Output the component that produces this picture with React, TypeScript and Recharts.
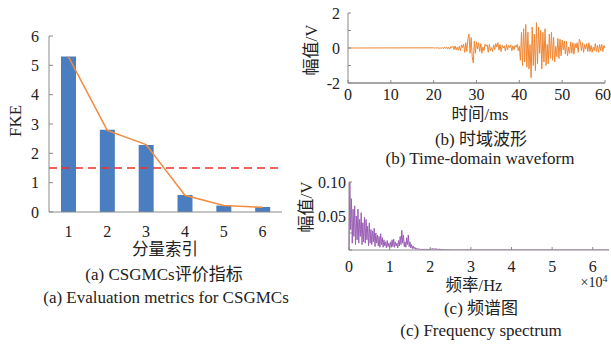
import React from 'react';
import { ComposedChart, LineChart, Bar, Line, XAxis, YAxis, ReferenceLine } from 'recharts';

const FONT = '"Liberation Serif", "Noto Sans CJK SC", serif';
const AXIS = '#8a8a8a';
const TEXT = '#222';

// (a) component index vs FKE
const components = ['1', '2', '3', '4', '5', '6'];
const fkeValues = [5.3, 2.8, 2.28, 0.58, 0.22, 0.17];
const fkeTrend = [5.3, 2.78, 2.3, 0.57, 0.22, 0.16];
const fkeThreshold = 1.5;
const fkeTicks = [0, 1, 2, 3, 4, 5, 6];

// (b) time-domain waveform, 0.25 ms samples from 20 ms (flat before)
const waveStart = 20;
const waveStep = 0.25;
const waveValues = [
  0.01, -0.01, 0.02, -0.01,
  0.02, -0.02, 0.01, -0.02,
  0.03, -0.04, 0.05, -0.03,
  0.06, -0.05, 0.04, -0.07,
  0.08, 0.02, 0.1, -0.09,
  0.12, -0.1, 0.05, -0.13,
  0.1, -0.16, 0.18, 0.02,
  0.22, -0.25, 0.3, -0.2,
  0.55, 0.8, -0.3, 0.6,
  -0.5, -0.85, 0.4, -0.3,
  0.35, -0.05, 0.3, -0.2,
  0.25, -0.3, 0.05, -0.15,
  0.22, 0.1, 0.18, -0.25,
  0.2, -0.15, 0.02, -0.2,
  0.18, -0.1, 0.25, 0.05,
  0.3, -0.12, 0.2, -0.2,
  0.15, 0.0, 0.12, -0.18,
  0.2, -0.1, 0.15, 0.02,
  0.18, -0.15, 0.12, -0.1,
  0.15, 0.05, 0.2, -0.15,
  0.1, -0.7, 0.9, -1.0,
  1.1, -0.8, 1.35, -1.1,
  0.9, -1.2, 0.2, -1.7,
  1.2, -1.0, 0.8, -1.3,
  1.45, -0.9, 1.2, -0.3,
  1.0, -1.2, 0.9, -0.8,
  1.1, -1.0, 0.2, -0.9,
  0.8, -0.6, 0.9, -0.7,
  0.6, -0.8, 0.1, -0.5,
  0.55, -0.6, 0.5, -0.45,
  0.45, -0.1, 0.4, -0.35,
  0.4, -0.45, 0.05, -0.3,
  0.35, -0.3, 0.3, -0.35,
  0.25, 0.0, 0.3, -0.25,
  0.5, 0.35, -0.15, 0.3,
  -0.25, 0.2, -0.05, 0.25,
  -0.2, 0.3, -0.2, 0.15,
  -0.25, 0.05, -0.15, 0.25,
  -0.2, 0.15, -0.25, 0.2,
  -0.15, 0.2, -0.2, 0.15,
  0.0,
];
const timeTicks = [0, 10, 20, 30, 40, 50, 60];
const voltTicks = [-2, -1, 0, 1, 2];

// (c) spectrum, 200 Hz bins up to 26 kHz, zero beyond
const specStep = 200;
const specValues = [
  0.0, 0.1, 0.03, 0.075, 0.01, 0.06, 0.02, 0.065, 0.008, 0.05,
  0.015, 0.06, 0.01, 0.045, 0.02, 0.055, 0.008, 0.04, 0.012, 0.048,
  0.01, 0.045, 0.015, 0.035, 0.006, 0.04, 0.01, 0.03, 0.008, 0.028,
  0.012, 0.032, 0.005, 0.025, 0.01, 0.022, 0.006, 0.02, 0.004, 0.024,
  0.008, 0.018, 0.004, 0.015, 0.006, 0.012, 0.003, 0.014, 0.005, 0.01,
  0.003, 0.012, 0.004, 0.015, 0.005, 0.016, 0.004, 0.012, 0.006, 0.01,
  0.003, 0.014, 0.006, 0.02, 0.008, 0.029, 0.01, 0.022, 0.005, 0.012,
  0.004, 0.018, 0.008, 0.022, 0.005, 0.012, 0.003, 0.008, 0.002, 0.006,
  0.002, 0.004, 0.001, 0.003, 0.001, 0.002, 0.001, 0.0015, 0.0005, 0.001,
  0.0005, 0.001, 0.0005, 0.001, 0.0005, 0.0012, 0.0004, 0.001, 0.0003, 0.0015,
  0.0005, 0.002, 0.0006, 0.0025, 0.0008, 0.002, 0.0006, 0.0022, 0.0005, 0.0018,
  0.0005, 0.0015, 0.0004, 0.001, 0.0003, 0.0008, 0.0002, 0.0006, 0.0002, 0.0005,
  0.0001, 0.0004, 0.0001, 0.0003, 0.0001, 0.0002, 0.0001, 0.0001, 0, 0.0001,
  0,
];
const specMax = 64000;
const freqTicks = [0, 10000, 20000, 30000, 40000, 50000, 60000];
const ampTicks = [0, 0.025, 0.05, 0.075, 0.1];

const barData = components.map((c, i) => ({ name: c, fke: fkeValues[i], trend: fkeTrend[i] }));
const waveData = [{ t: 0, v: 0 }, ...waveValues.map((v, i) => ({ t: waveStart + i * waveStep, v }))];
const specData = [...specValues.map((a, i) => ({ f: i * specStep, a })), { f: specMax, a: 0 }];

const tickStyle = { fontSize: 16, fill: TEXT, fontFamily: FONT };

function Txt({ x, y, children, rotate, size = 17 }: { x: number; y: number; children: React.ReactNode; rotate?: boolean; size?: number }) {
  return (
    <div
      style={{
        position: 'absolute', left: x, top: y, whiteSpace: 'nowrap', lineHeight: 1,
        transform: `translate(-50%, -50%)${rotate ? ' rotate(-90deg)' : ''}`,
        fontSize: size, color: TEXT, fontFamily: FONT,
      }}
    >
      {children}
    </div>
  );
}

export default function App() {
  return (
    <div style={{ position: 'absolute', left: 0, top: 0, width: 611, height: 345, background: '#fff', overflow: 'hidden' }}>
      {/* (a) */}
      <div style={{ position: 'absolute', left: 0, top: 0 }}>
        <ComposedChart width={300} height={250} data={barData} margin={{ top: 36, right: 18, left: 19, bottom: 8 }}>
          <XAxis dataKey="name" tick={tickStyle} tickLine={false} axisLine={{ stroke: AXIS }} tickMargin={8} height={30} />
          <YAxis
            domain={[0, 6]} ticks={fkeTicks} width={30} tick={tickStyle}
            axisLine={{ stroke: AXIS }} tickLine={{ stroke: AXIS }} tickSize={-4} tickMargin={14}
          />
          <Bar dataKey="fke" fill="#4a7ec0" barSize={15} isAnimationActive={false} />
          <Line type="linear" dataKey="trend" stroke="#f28c3e" strokeWidth={1.5} dot={false} isAnimationActive={false} />
          <ReferenceLine y={fkeThreshold} stroke="#f0302a" strokeWidth={1.5} strokeDasharray="8 5" />
        </ComposedChart>
      </div>
      <Txt x={15} y={121} rotate>FKE</Txt>
      <Txt x={165} y={250} size={16.5}>分量索引</Txt>
      <Txt x={164} y={274}>(a) CSGMCs评价指标</Txt>
      <Txt x={166} y={297}>(a) Evaluation metrics for CSGMCs</Txt>

      {/* (b) */}
      <div style={{ position: 'absolute', left: 290, top: 0 }}>
        <LineChart width={321} height={110} data={waveData} margin={{ top: 13, right: 6, left: 28, bottom: 7 }}>
          <XAxis
            dataKey="t" type="number" domain={[0, 60]} ticks={timeTicks} tick={tickStyle}
            axisLine={{ stroke: AXIS, strokeWidth: 1.5 }} tickLine={{ stroke: AXIS }} tickSize={-3} tickMargin={9} height={20}
          />
          <YAxis
            domain={[-2, 2]} ticks={voltTicks} width={30} tick={tickStyle}
            tickFormatter={(v: number) => (v % 2 === 0 ? String(v) : '')}
            axisLine={{ stroke: AXIS }} tickLine={{ stroke: AXIS }} tickSize={-3} tickMargin={11}
          />
          <Line type="linear" dataKey="v" stroke="#ef8633" strokeWidth={1} dot={false} isAnimationActive={false} />
        </LineChart>
      </div>
      <Txt x={311} y={50} rotate>幅值/V</Txt>
      <Txt x={480} y={115} size={16.5}>时间/ms</Txt>
      <Txt x={481} y={139}>(b) 时域波形</Txt>
      <Txt x={480} y={158}>(b) Time-domain waveform</Txt>

      {/* (c) */}
      <div style={{ position: 'absolute', left: 290, top: 170 }}>
        <LineChart width={321} height={110} data={specData} margin={{ top: 12, right: 2, left: 29, bottom: 10 }}>
          <XAxis
            dataKey="f" type="number" domain={[0, specMax]} ticks={freqTicks} tick={tickStyle}
            tickFormatter={(v: number) => String(v / 10000)}
            axisLine={{ stroke: AXIS }} tickLine={{ stroke: AXIS }} tickSize={-3} tickMargin={14} height={20}
          />
          <YAxis
            domain={[0, 0.1]} ticks={ampTicks} width={30} tick={tickStyle} allowDataOverflow
            tickFormatter={(v: number) => (v === 0.1 ? '0.10' : v === 0.05 ? '0.05' : '')}
            axisLine={{ stroke: AXIS }} tickLine={{ stroke: AXIS }} tickSize={-3} tickMargin={6}
          />
          <Line type="linear" dataKey="a" stroke="#9b5fb5" strokeWidth={1} dot={false} isAnimationActive={false} />
        </LineChart>
      </div>
      <Txt x={306} y={207} rotate>幅值/V</Txt>
      <Txt x={474} y={286} size={16.5}>频率/Hz</Txt>
      <Txt x={594} y={282} size={14}>×10<sup style={{ fontSize: 10 }}>4</sup></Txt>
      <Txt x={481} y={308}>(c) 频谱图</Txt>
      <Txt x={481} y={330}>(c) Frequency spectrum</Txt>
    </div>
  );
}
